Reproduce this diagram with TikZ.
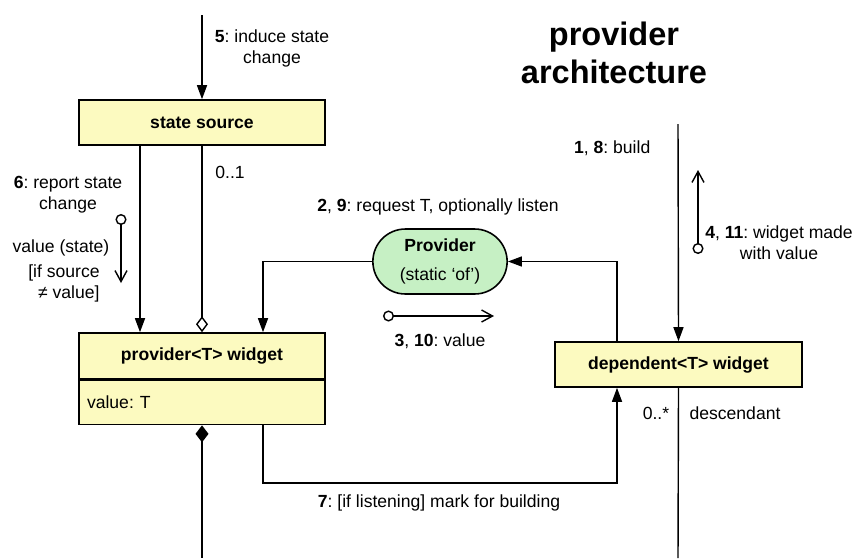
\documentclass[tikz,border=0pt]{standalone}
\usepackage{fontspec}
\setmainfont{Liberation Sans}
\usetikzlibrary{arrows.meta,positioning,shapes.misc}
\frenchspacing

\definecolor{boxyellow}{RGB}{252,250,192}
\definecolor{provgreen}{RGB}{198,240,196}

\begin{document}
\begin{tikzpicture}[x=0.02cm, y=-0.02cm,
    font=\fontsize{10}{12}\selectfont, line width=0.8pt,
    umlbox/.style={draw, fill=boxyellow, line width=0.9pt, minimum width=4.92cm,
        minimum height=0.9cm, inner sep=0.16cm},
    provnode/.style={draw, fill=provgreen, line width=0.9pt, rounded rectangle,
        rounded rectangle arc length=180, minimum width=2.92cm, minimum height=1.3cm,
        align=center},
    lbl/.style={align=center, inner sep=0pt},
    flow/.style={-{Triangle[length=0.28cm,width=0.2cm]}},
    aggr/.style={-{Diamond[open,fill=white,length=0.32cm,width=0.24cm]}},
    comp/.style={{Diamond[length=0.34cm,width=0.26cm]}-},
    msg/.style={{Circle[open,length=0.22cm]}-{Straight Barb[length=0.22cm,width=0.24cm]}}]

    % Fix the page size
    \useasboundingbox (0,0) rectangle (861,558);

    % Title
    \node[lbl, font=\fontsize{18.5}{22}\selectfont\bfseries] (ttl) at (614,53) {provider\\architecture};

    % Class boxes and the Provider
    \node[umlbox] (statesrc) at (202,122.5) {\textbf{state source}};
    \node[umlbox, minimum height=0.92cm] (provw) at (202,356) {\textbf{provider<T> widget}};
    \node[umlbox, minimum height=0.88cm, text width=4.6cm, align=left, below=0pt of provw] (provval) {value: T};
    \node[umlbox, minimum width=4.94cm] (depw) at (678.5,364.5) {\textbf{dependent<T> widget}};
    \node[provnode] (prov) at (440,261.5) {\textbf{Provider}\\[4pt](static `of')};

    % Free ends and bends
    \coordinate (in5) at (202,15);
    \coordinate (in18) at (678,124);
    \coordinate (outl) at (202,558);
    \coordinate (outr) at (678,558);
    \coordinate (bend7l) at (263,483);
    \coordinate (bend7r) at (617,483);

    % Connectors
    \draw[flow] (in5) -- (statesrc.north);
    \draw[flow] (statesrc.south -| 140,0) -- (provw.north -| 140,0);
    \draw[aggr] (statesrc.south) -- (provw.north);
    \draw[flow] (prov.west) -| (provw.north -| bend7l);
    \draw[flow] (depw.north -| bend7r) |- (prov.east);
    \draw[flow] (in18) -- (depw.north);
    \draw (depw.south) -- (outr);
    \draw[comp] (provval.south) -- (outl);
    \draw[flow] (provval.south -| bend7l) -- (bend7l) -- (bend7r) -- (depw.south -| bend7r);

    % Message arrows
    \coordinate (m6a) at (121,214);
    \coordinate (m6b) at (121,283);
    \coordinate (m3a) at (383,316);
    \coordinate (m3b) at (494,316);
    \coordinate (m4a) at (698,254);
    \coordinate (m4b) at (698,170);
    \draw[msg] (m6a) -- (m6b);
    \draw[msg] (m3a) -- (m3b);
    \draw[msg] (m4a) -- (m4b);

    % Labels
    \node[lbl] (lbl5) at (272,48) {\textbf{5}: induce state\\change};
    \node[lbl] (lbl01) at (230,172) {0..1};
    \node[lbl] (lbl6) at (68,195) {\textbf{6}: report state\\change};
    \node[lbl] (lblval) at (61,248) {value (state)};
    \node[lbl] (lblcond) at (64,283) {[if source\\\ \ ≠ value]};
    \node[lbl] (lbl29) at (438,207) {\textbf{2}, \textbf{9}: request T, optionally listen};
    \node[lbl] (lbl310) at (440,341) {\textbf{3}, \textbf{10}: value};
    \node[lbl, anchor=east] (lbl18) at (651,148) {\textbf{1}, \textbf{8}: build};
    \node[lbl] (lbl411) at (779,243) {\textbf{4}, \textbf{11}: widget made\\with value};
    \node[lbl] (lbl7) at (439,503) {\textbf{7}: [if listening] mark for building};
    \node[lbl] (lbl0s) at (656,413) {0..*};
    \node[lbl] (lbldesc) at (735,413) {descendant};
\end{tikzpicture}
\end{document}
